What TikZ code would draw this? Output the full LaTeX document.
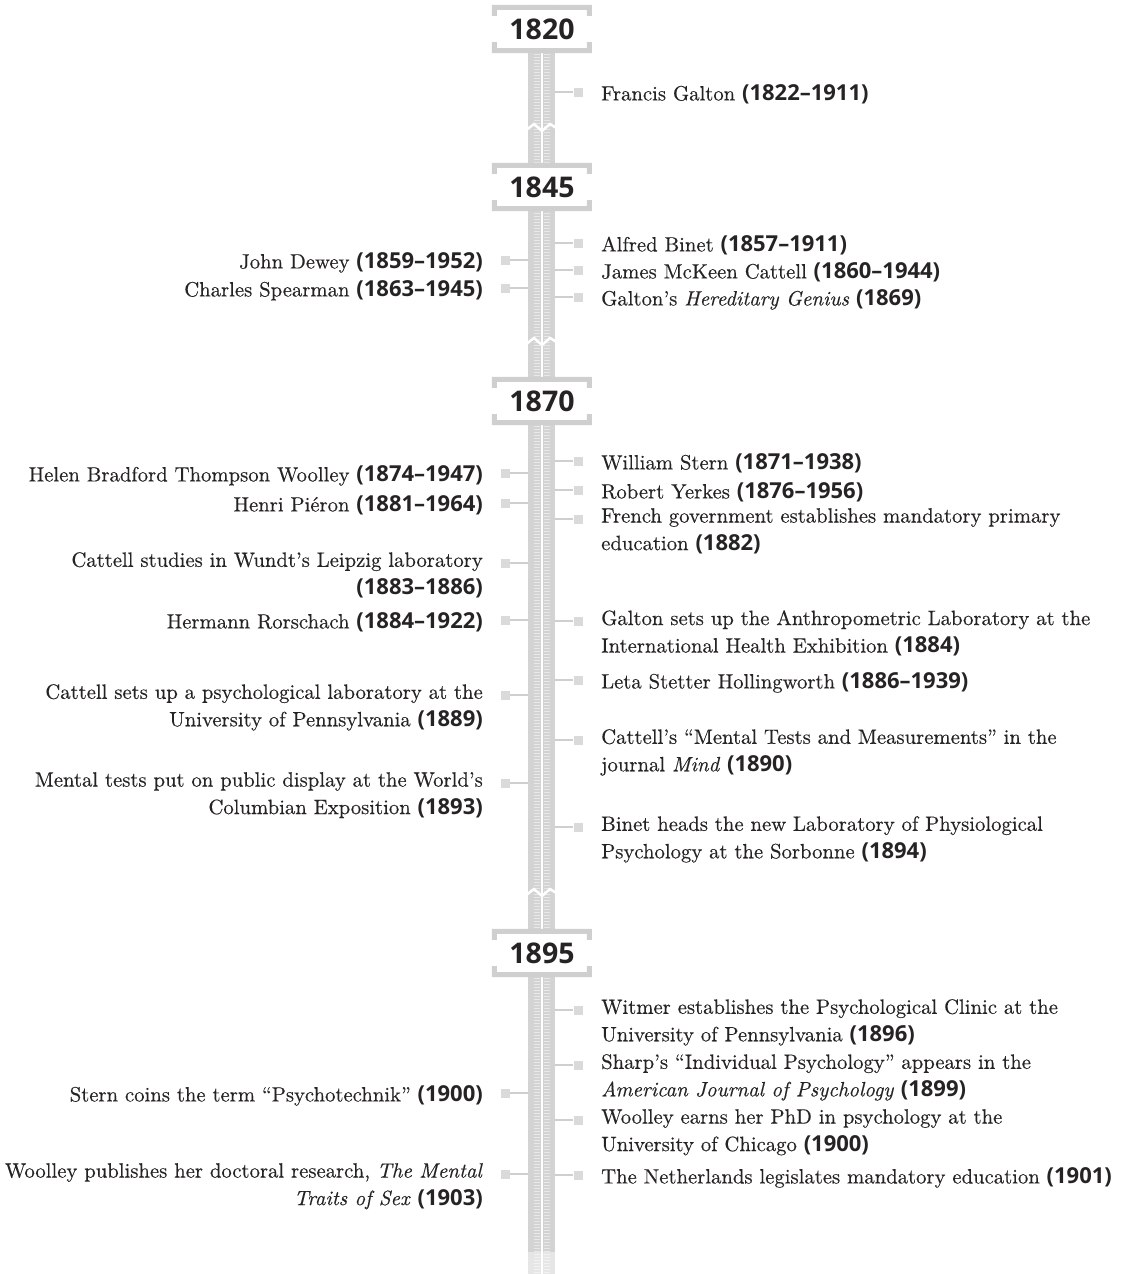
\documentclass[tikz,border=0pt]{standalone}
\usepackage{fontspec}
\setmainfont{lmroman10}[Extension=.otf, UprightFont=*-regular,
  ItalicFont=*-italic, BoldFont=*-bold,
  UprightFeatures={FakeBold=0.35}, ItalicFeatures={FakeBold=0.35}]
\newfontfamily\yrfont{Open Sans}
\definecolor{txt}{HTML}{262324}
\definecolor{spinegray}{HTML}{D3D3D3}
\definecolor{tickgray}{HTML}{E8E8E8}
\definecolor{brkgray}{HTML}{CFCFCF}
\definecolor{mkgray}{HTML}{DADADA}
\newcommand\evfont{\fontsize{20.7}{27.5}\selectfont\color{txt}}
\newcommand\yr[1]{{\yrfont\bfseries\fontsize{22}{27.5}\selectfont(#1)}}
\begin{document}
\begin{tikzpicture}[x=1pt,y=-1pt,%
% common options for the event texts:
evr/.style = {anchor=north west, align=left, inner sep=0, font=\evfont,
            execute at begin node=\strut},
evl/.style = {anchor=north east, align=right, inner sep=0, font=\evfont,
            execute at begin node=\strut},
% common options for the year boxes:
yearbox/.style = {fill=white, minimum width=100, minimum height=48, inner sep=0,
            font=\yrfont\bfseries\fontsize{28.5}{30}\selectfont, text=txt},
% common options for the markers:
mk/.style = {rectangle, fill=mkgray, minimum size=9, inner sep=0},
conn/.style = {draw=brkgray, line width=2}]
\useasboundingbox (0,0) rectangle (1120,1274);
% spine
\fill[spinegray] (528,0) rectangle (555,1274);
\draw[tickgray, line width=6, dash pattern=on 1.2 off 1.8] (537,0) -- (537,1274);
\draw[tickgray, line width=6, dash pattern=on 1.2 off 1.8] (547,0) -- (547,1274);
\fill[white] (541,0) rectangle (543,1274);
\fill[white, opacity=0.45] (526,1252) rectangle (557,1274);
% breaks
\foreach \b in {128,342,893}
  \draw[white, line width=2.5] (525,\b+3) -- (534,\b-4) -- (542,\b+3) -- (550,\b-4) -- (558,\b+1);
% year boxes
\node[yearbox] (y1820) at (542,29) {1820};
\node[yearbox] (y1845) at (542,187) {1845};
\node[yearbox] (y1870) at (542,401) {1870};
\node[yearbox] (y1895) at (542,953) {1895};
\fill[white] (528,0) rectangle (555,5);
\foreach \n in {y1820,y1845,y1870,y1895} {
  \fill[brkgray] (\n.north west) -- ++(100,0) -- ++(0,11) -- ++(-5,0) -- ++(0,-6)
    -- ++(-90,0) -- ++(0,6) -- ++(-5,0) -- cycle;
  \fill[brkgray] (\n.south west) -- ++(100,0) -- ++(0,-11) -- ++(-5,0) -- ++(0,6)
    -- ++(-90,0) -- ++(0,-6) -- ++(-5,0) -- cycle;
}
% markers
\foreach \y [count=\i] in {92,243,270,297,461,490,519,621,680,740,827,1010,1065,1120,1175} {
  \node[mk] (mr\i) at (578,\y) {};
  \coordinate (sr\i) at (555,\y);
  \draw[conn] (sr\i) -- (mr\i);
}
\foreach \y [count=\i] in {260,288,473,503,563,620,695,783,1093,1174} {
  \node[mk] (ml\i) at (505,\y) {};
  \coordinate (sl\i) at (528,\y);
  \draw[conn] (sl\i) -- (ml\i);
}
% 1820
\node[evr] (galton) at (601,81) {Francis Galton \yr{1822–1911}};
% 1845
\node[evr] (binet) at (601,232) {Alfred Binet \yr{1857–1911}};
\node[evr] (cattell) at (601,259) {James McKeen Cattell \yr{1860–1944}};
\node[evr] (genius) at (601,286) {Galton’s \emph{Hereditary Genius} \yr{1869}};
\node[evl] (dewey) at (483,249) {John Dewey \yr{1859–1952}};
\node[evl] (spearman) at (483,277) {Charles Spearman \yr{1863–1945}};
% 1870
\node[evr] (stern) at (601,450) {William Stern \yr{1871–1938}};
\node[evr] (yerkes) at (601,479) {Robert Yerkes \yr{1876–1956}};
\node[evr] (french) at (601,508) {French government establishes mandatory primary\\education \yr{1882}};
\node[evr] (anthro) at (601,610) {Galton sets up the Anthropometric Laboratory at the\\International Health Exhibition \yr{1884}};
\node[evr] (leta) at (601,669) {Leta Stetter Hollingworth \yr{1886–1939}};
\node[evr] (mind) at (601,729) {Cattell’s “Mental Tests and Measurements” in the\\journal \emph{Mind} \yr{1890}};
\node[evr] (sorbonne) at (601,816) {Binet heads the new Laboratory of Physiological\\Psychology at the Sorbonne \yr{1894}};
\node[evl] (woolley) at (483,462) {Helen Bradford Thompson Woolley \yr{1874–1947}};
\node[evl] (pieron) at (483,492) {Henri Piéron \yr{1881–1964}};
\node[evl] (leipzig) at (483,552) {Cattell studies in Wundt’s Leipzig laboratory\\\yr{1883–1886}};
\node[evl] (rorschach) at (483,609) {Hermann Rorschach \yr{1884–1922}};
\node[evl] (penn) at (483,684) {Cattell sets up a psychological laboratory at the\\University of Pennsylvania \yr{1889}};
\node[evl] (expo) at (483,772) {Mental tests put on public display at the World’s\\Columbian Exposition \yr{1893}};
% 1895
\node[evr] (witmer) at (601,999) {Witmer establishes the Psychological Clinic at the\\University of Pennsylvania \yr{1896}};
\node[evr] (sharp) at (601,1054) {Sharp’s “Individual Psychology” appears in the\\\emph{American Journal of Psychology} \yr{1899}};
\node[evr] (phd) at (601,1109) {Woolley earns her PhD in psychology at the\\University of Chicago \yr{1900}};
\node[evr] (nether) at (601,1164) {The Netherlands legislates mandatory education \yr{1901}};
\node[evl] (psytech) at (483,1082) {Stern coins the term “Psychotechnik” \yr{1900}};
\node[evl] (traits) at (483,1163) {Woolley publishes her doctoral research, \emph{The Mental}\\\emph{Traits of Sex} \yr{1903}};
\end{tikzpicture}
\end{document}
